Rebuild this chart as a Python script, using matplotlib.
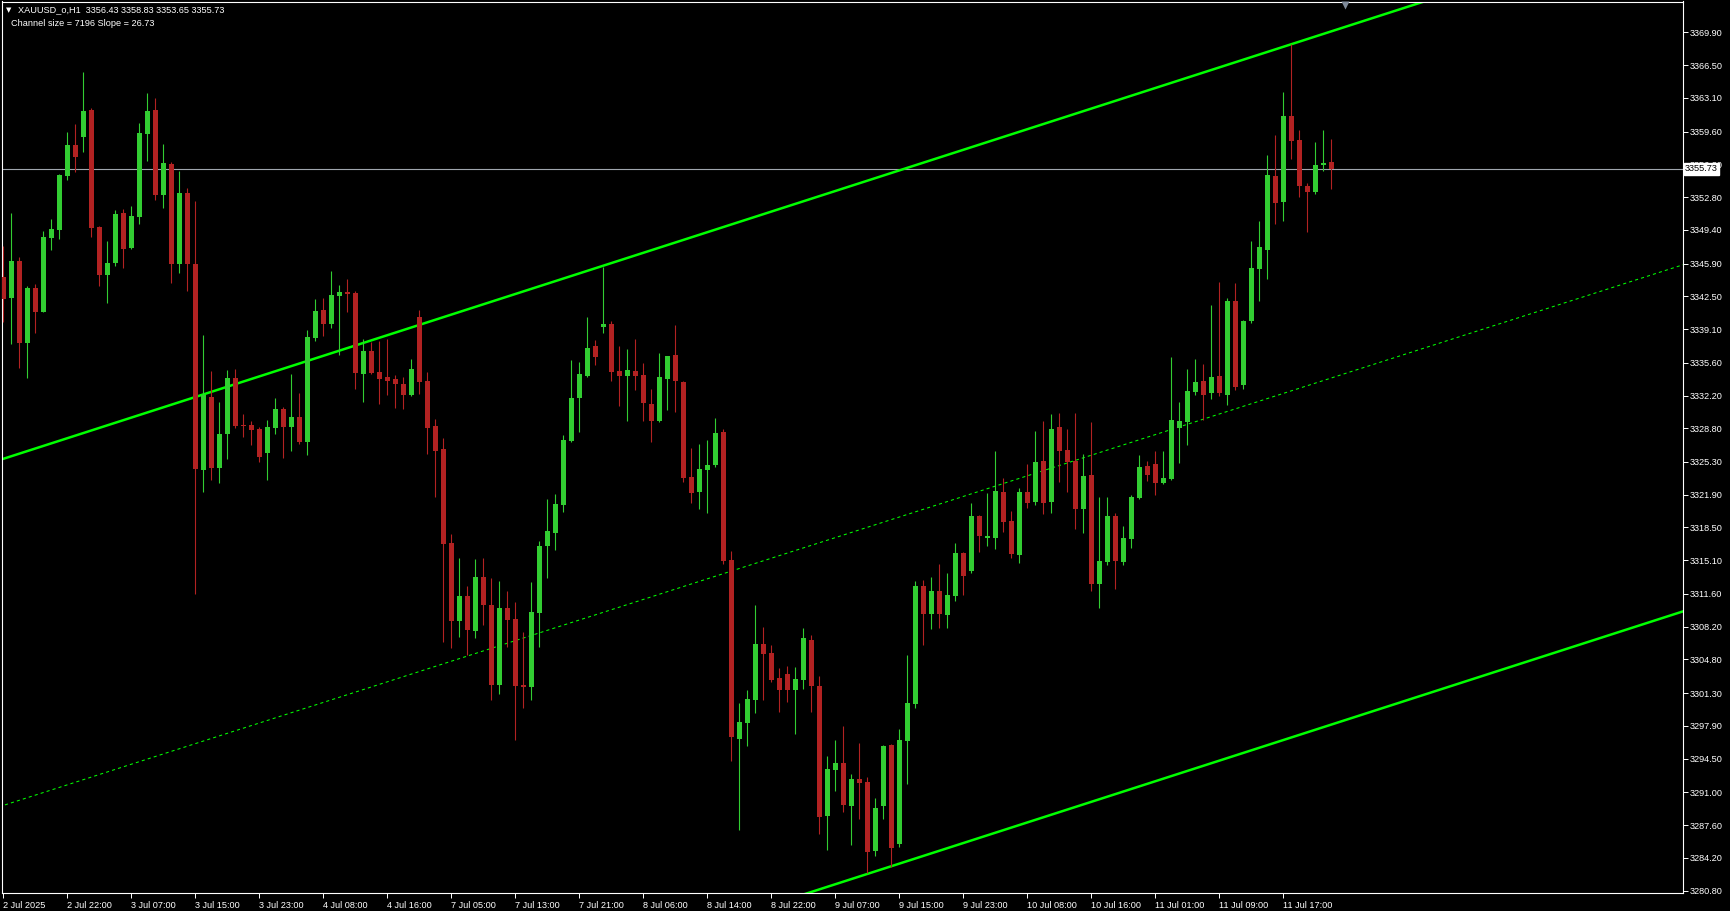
import matplotlib
matplotlib.use("Agg")
import matplotlib.pyplot as plt
import matplotlib.transforms as mtransforms
import numpy as np

# XAUUSD H1 bars (oldest first)
opens = [3344.51, 3342.37, 3346.16, 3337.69, 3343.37, 3340.90, 3348.55, 3349.41, 3355.02, 3358.20,
         3359.06, 3361.85, 3349.70, 3344.76, 3345.98, 3351.16, 3347.52, 3350.77, 3359.38, 3361.85,
         3353.06, 3356.24, 3345.80, 3353.23, 3345.87, 3324.43, 3332.04, 3324.71, 3328.22, 3334.01,
         3329.15, 3329.10, 3328.72, 3326.26, 3328.86, 3330.80, 3328.96, 3329.97, 3327.40, 3338.20,
         3341.07, 3339.65, 3342.56, 3342.94, 3342.84, 3334.46, 3336.82, 3334.64, 3334.12, 3333.91,
         3333.39, 3332.25, 3340.35, 3333.70, 3329.03, 3326.64, 3316.89, 3308.82, 3311.39, 3307.79,
         3313.36, 3310.45, 3302.18, 3310.14, 3309.00, 3302.15, 3301.97, 3309.66, 3316.58, 3317.92,
         3320.83, 3327.47, 3331.94, 3334.22, 3337.34, 3339.31, 3339.62, 3334.74, 3334.22, 3334.74,
         3334.32, 3331.31, 3329.55, 3333.91, 3336.40, 3333.59, 3323.72, 3322.18, 3324.45, 3324.98,
         3328.40, 3315.11, 3296.53, 3298.18, 3300.60, 3306.40, 3305.48, 3302.87, 3303.29, 3301.64,
         3302.67, 3306.82, 3302.02, 3288.54, 3293.30, 3294.03, 3289.58, 3292.38, 3292.07, 3284.89,
         3289.58, 3295.91, 3285.68, 3296.37, 3300.17, 3312.42, 3309.52, 3311.90, 3309.41, 3311.39,
         3315.85, 3313.98, 3319.69, 3317.44, 3317.41, 3322.18, 3319.17, 3315.64, 3322.18, 3321.14,
         3325.40, 3321.14, 3328.93, 3326.54, 3325.40, 3320.42, 3323.94, 3312.63, 3314.91, 3319.69,
         3314.91, 3317.34, 3321.56, 3324.88, 3325.12, 3323.16, 3323.55, 3328.86, 3329.49, 3332.61,
         3333.71, 3332.50, 3334.21, 3332.30, 3342.02, 3333.24, 3339.95, 3345.38, 3347.26, 3354.99,
         3352.33, 3361.20, 3358.74, 3353.90, 3353.35, 3356.08, 3356.43]
highs = [3347.73, 3351.13, 3346.55, 3343.55, 3343.80, 3349.27, 3350.52, 3355.24, 3359.56, 3360.38,
         3365.78, 3362.06, 3349.80, 3348.23, 3351.45, 3351.55, 3351.88, 3360.49, 3363.60, 3363.10,
         3358.31, 3356.45, 3355.52, 3353.73, 3352.41, 3338.47, 3334.76, 3331.54, 3334.86, 3334.95,
         3330.28, 3329.52, 3328.96, 3329.65, 3331.94, 3331.00, 3334.43, 3332.46, 3339.00, 3342.18,
         3342.32, 3345.12, 3343.67, 3344.29, 3343.04, 3338.06, 3337.75, 3337.85, 3338.06, 3334.29,
         3334.12, 3335.99, 3341.07, 3334.64, 3329.76, 3327.79, 3317.82, 3315.33, 3312.42, 3315.23,
         3315.33, 3313.25, 3312.94, 3311.90, 3310.76, 3307.65, 3312.84, 3317.09, 3321.45, 3321.97,
         3328.10, 3335.88, 3335.67, 3340.35, 3337.96, 3345.54, 3339.93, 3337.34, 3337.02, 3338.06,
         3335.57, 3332.87, 3336.61, 3336.35, 3339.51, 3333.70, 3326.75, 3327.17, 3327.59, 3329.86,
         3328.71, 3316.04, 3300.29, 3301.64, 3310.43, 3308.16, 3306.28, 3303.90, 3304.13, 3304.02,
         3308.05, 3307.32, 3303.06, 3294.76, 3296.41, 3297.87, 3292.92, 3296.11, 3292.57, 3290.42,
         3295.91, 3296.03, 3297.58, 3305.26, 3312.94, 3313.05, 3313.36, 3314.71, 3313.77, 3316.89,
         3315.95, 3321.04, 3319.79, 3322.08, 3326.44, 3323.63, 3320.21, 3322.60, 3325.09, 3328.51,
         3329.55, 3330.28, 3330.38, 3328.72, 3330.38, 3326.12, 3329.45, 3321.66, 3321.66, 3320.00,
         3318.65, 3321.87, 3326.05, 3325.39, 3326.44, 3326.44, 3336.21, 3331.52, 3334.96, 3336.01,
         3335.46, 3341.59, 3343.98, 3342.30, 3343.90, 3340.05, 3348.23, 3350.30, 3357.18, 3359.25,
         3363.70, 3368.66, 3359.75, 3354.21, 3358.50, 3359.75, 3358.83]
lows = [3339.87, 3337.58, 3335.01, 3333.97, 3338.72, 3340.85, 3347.34, 3348.48, 3354.52, 3355.45,
        3357.52, 3348.70, 3343.62, 3341.83, 3345.69, 3345.48, 3347.41, 3350.05, 3356.59, 3352.52,
        3351.70, 3343.83, 3344.87, 3343.08, 3311.63, 3322.14, 3323.46, 3323.07, 3325.64, 3328.86,
        3327.92, 3327.09, 3325.33, 3323.46, 3328.24, 3325.74, 3326.47, 3327.20, 3326.06, 3337.89,
        3338.41, 3339.24, 3336.44, 3340.86, 3332.91, 3331.56, 3334.43, 3331.35, 3332.28, 3330.93,
        3330.83, 3332.18, 3332.39, 3326.16, 3321.70, 3306.64, 3306.02, 3307.16, 3305.30, 3307.06,
        3308.41, 3300.62, 3301.25, 3306.13, 3296.44, 3299.79, 3300.62, 3306.13, 3313.29, 3316.19,
        3320.14, 3327.37, 3328.41, 3334.12, 3335.36, 3338.68, 3333.70, 3331.11, 3329.55, 3332.77,
        3329.55, 3327.37, 3329.50, 3330.69, 3330.48, 3323.26, 3321.03, 3320.41, 3319.99, 3324.79,
        3314.69, 3294.26, 3287.08, 3295.80, 3299.22, 3300.60, 3302.44, 3299.33, 3300.37, 3297.07,
        3301.71, 3299.33, 3286.66, 3285.01, 3291.15, 3288.96, 3285.55, 3288.23, 3282.63, 3284.39,
        3288.23, 3283.29, 3285.37, 3291.91, 3299.76, 3306.30, 3307.96, 3308.06, 3308.06, 3310.87,
        3311.49, 3313.77, 3315.95, 3316.58, 3316.26, 3318.03, 3315.33, 3314.81, 3320.52, 3320.83,
        3319.90, 3320.00, 3323.22, 3322.18, 3318.34, 3317.92, 3311.90, 3310.14, 3314.60, 3312.11,
        3314.60, 3316.41, 3321.48, 3323.36, 3321.91, 3322.97, 3323.48, 3325.23, 3327.11, 3332.22,
        3329.64, 3331.87, 3332.11, 3331.17, 3332.81, 3332.92, 3339.68, 3342.06, 3344.25, 3350.03,
        3350.34, 3356.78, 3352.76, 3349.21, 3353.15, 3355.54, 3353.65]
closes = [3342.26, 3346.16, 3337.69, 3343.37, 3340.90, 3348.66, 3349.48, 3355.09, 3358.20, 3356.99,
          3361.74, 3349.62, 3344.66, 3345.98, 3351.05, 3347.44, 3350.84, 3359.45, 3361.74, 3353.06,
          3356.34, 3345.80, 3353.23, 3345.80, 3324.61, 3332.29, 3324.71, 3328.22, 3334.04, 3329.07,
          3329.05, 3328.65, 3325.85, 3328.93, 3330.80, 3328.96, 3329.97, 3327.40, 3338.27, 3340.97,
          3339.65, 3342.63, 3342.94, 3342.77, 3334.57, 3336.82, 3334.53, 3333.94, 3333.74, 3333.43,
          3332.28, 3334.95, 3333.63, 3328.86, 3326.47, 3316.82, 3308.82, 3311.39, 3307.89, 3313.36,
          3310.49, 3302.18, 3310.14, 3308.93, 3302.08, 3301.97, 3309.72, 3316.58, 3318.13, 3320.93,
          3327.58, 3331.94, 3334.43, 3337.13, 3336.19, 3339.62, 3334.64, 3334.22, 3334.84, 3334.22,
          3331.42, 3329.55, 3334.12, 3336.30, 3333.70, 3323.64, 3322.03, 3324.56, 3324.98, 3328.29,
          3315.00, 3296.76, 3298.30, 3300.68, 3306.40, 3305.36, 3302.67, 3301.64, 3301.64, 3302.75,
          3307.01, 3302.02, 3288.43, 3293.42, 3294.03, 3289.69, 3292.38, 3291.96, 3284.82, 3289.39,
          3295.80, 3285.24, 3296.44, 3300.28, 3312.42, 3309.52, 3311.90, 3309.52, 3311.49, 3315.85,
          3313.46, 3319.69, 3317.61, 3317.61, 3322.28, 3319.07, 3315.74, 3322.18, 3321.04, 3325.29,
          3321.04, 3328.72, 3326.44, 3325.29, 3320.42, 3323.84, 3312.63, 3315.02, 3319.69, 3315.02,
          3317.41, 3321.68, 3324.80, 3323.90, 3323.16, 3323.63, 3329.68, 3329.57, 3332.69, 3333.63,
          3332.30, 3334.14, 3332.42, 3342.02, 3333.04, 3339.95, 3345.42, 3347.61, 3355.11, 3352.22,
          3361.20, 3358.66, 3353.90, 3353.35, 3356.12, 3356.36, 3355.73]

# one label every 8 bars
time_labels = ["2 Jul 2025", "2 Jul 22:00", "3 Jul 07:00", "3 Jul 15:00", "3 Jul 23:00",
               "4 Jul 08:00", "4 Jul 16:00", "7 Jul 05:00", "7 Jul 13:00", "7 Jul 21:00",
               "8 Jul 06:00", "8 Jul 14:00", "8 Jul 22:00", "9 Jul 07:00", "9 Jul 15:00",
               "9 Jul 23:00", "10 Jul 08:00", "10 Jul 16:00", "11 Jul 01:00", "11 Jul 09:00",
               "11 Jul 17:00"]
price_labels = ["3369.90", "3366.50", "3363.10", "3359.60", "3356.20", "3352.80", "3349.40",
                "3345.90", "3342.50", "3339.10", "3335.60", "3332.20", "3328.80", "3325.30",
                "3321.90", "3318.50", "3315.10", "3311.60", "3308.20", "3304.80", "3301.30",
                "3297.90", "3294.50", "3291.00", "3287.60", "3284.20", "3280.80"]

# linear regression channel (value of the upper line at the first bar, slope per bar, width)
channel_start = 3325.63
channel_slope = 0.2673
channel_size = 71.96

BG = "black"
UP = "#32CD32"
DOWN = "#B22222"
LINE = "#00FF00"
FONT = ["Liberation Sans", "DejaVu Sans"]
W, H = 1730, 911

plt.rcParams["font.family"] = FONT

fig = plt.figure(figsize=(W / 100, H / 100), dpi=100, facecolor=BG)
ax = fig.add_axes([2 / W, 1 - 893 / H, 1681 / W, 891.5 / H], facecolor=BG)

o = np.array(opens)
h = np.array(highs)
l = np.array(lows)
c = np.array(closes)
x = np.arange(len(o))
colors = np.where(c >= o, UP, DOWN)

ax.vlines(x, l, h, colors=colors, linewidth=0.8, zorder=3)
body = np.maximum(np.abs(c - o), 0.1)
ax.bar(x, body, bottom=np.minimum(o, c), width=0.62, color=colors, linewidth=0, zorder=4)

# channel
xs = np.array([-2, 215])
upper = channel_start + channel_slope * xs
ax.plot(xs, upper, color=LINE, lw=1.8, zorder=2)
ax.plot(xs, upper - channel_size, color=LINE, lw=1.8, zorder=2)
ax.plot(xs, upper - channel_size / 2, color=LINE, lw=0.75, ls=(0, (3, 3)), zorder=2)

# bid line and label
last = closes[-1]
ax.axhline(last, color="#A0A6AE", lw=0.8, zorder=1)
ax.annotate(f"{last:.2f}", xy=(1.0, last), xycoords=("axes fraction", "data"),
            xytext=(1.5, 0), textcoords="offset points", ha="left", va="center",
            fontsize=6.6, color="black", annotation_clip=False, zorder=10,
            bbox=dict(boxstyle="square,pad=0.15", facecolor="white", edgecolor="white"))

# chart shift marker at the top
trans = mtransforms.blended_transform_factory(ax.transData, ax.transAxes)
ax.plot([167.7], [1 - 3.5 / 891.5], marker="v", ms=6, color="#7F8A99", mec="none",
        transform=trans, clip_on=False, zorder=5)

ax.set_xlim(-0.1625, 209.96)
ax.set_ylim(3280.56, 3373.10)

ax.yaxis.tick_right()
ax.set_yticks([float(v) for v in price_labels])
ax.set_yticklabels(price_labels)
ax.set_xticks(np.arange(len(time_labels)) * 8)
ax.set_xticklabels(time_labels, ha="left")
ax.tick_params(axis="both", colors="white", direction="out", length=3.5, width=0.7,
               labelsize=6.6, pad=1.5)
ax.tick_params(axis="x", pad=2)
for s in ax.spines.values():
    s.set_color("white")
    s.set_linewidth(0.8)

fig.text(6 / W, 1 - 10 / H, "\u25bc", color="white", fontsize=5, va="center",
         family=["DejaVu Sans"])
fig.text(17.5 / W, 1 - 10 / H, "XAUUSD_o,H1  3356.43 3358.83 3353.65 3355.73",
         color="white", fontsize=6.6, va="center")
fig.text(11 / W, 1 - 23.3 / H, "Channel size = 7196 Slope = 26.73",
         color="white", fontsize=6.6, va="center")

fig.savefig("out.png", dpi=100, facecolor=BG)
